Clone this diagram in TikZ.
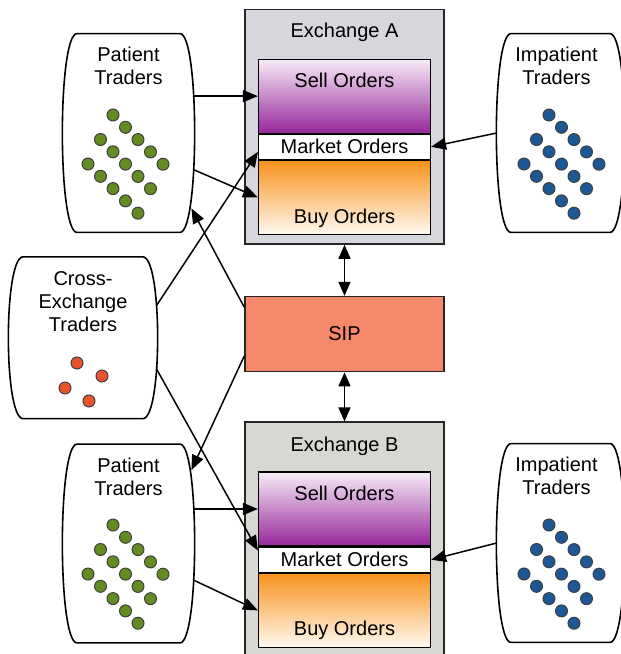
\documentclass[tikz,border=0pt]{standalone}
\usepackage{fontspec}
\setmainfont{Liberation Sans}
\usetikzlibrary{arrows.meta, positioning, calc}
\definecolor{exgrayA}{RGB}{214,214,221}
\definecolor{exgrayB}{RGB}{217,215,211}
\definecolor{selltop}{RGB}{247,236,247}
\definecolor{sellpurple}{RGB}{150,38,155}
\definecolor{buyorange}{RGB}{248,146,28}
\definecolor{buybottom}{RGB}{255,249,240}
\definecolor{sipfill}{RGB}{245,136,106}
\definecolor{dotgreen}{RGB}{98,140,32}
\definecolor{dotblue}{RGB}{28,88,150}
\definecolor{dotred}{RGB}{234,84,44}
\tikzset{
  exchange/.style={rectangle, minimum width=99.5pt, minimum height=117.25pt, draw=black!85, line width=0.8pt},
  sellbox/.style={rectangle, minimum width=86pt, minimum height=37pt, inner sep=0pt, draw=black, line width=0.6pt, top color=selltop, bottom color=sellpurple, text height=7.2pt, text depth=16.2pt},
  marketbox/.style={rectangle, minimum width=86pt, minimum height=12.5pt, inner sep=0pt, draw=black, line width=0.6pt, fill=white},
  buybox/.style={rectangle, minimum width=86pt, minimum height=37pt, inner sep=0pt, draw=black, line width=0.6pt, top color=buyorange, bottom color=buybottom, text height=25.5pt, text depth=0pt},
  sipbox/.style={rectangle, minimum width=99.5pt, minimum height=37.5pt, draw=black!85, line width=0.8pt, fill=sipfill},
  traders/.style={rectangle, minimum width=65.5pt, minimum height=99pt, inner sep=0pt},
  title/.style={align=center, inner sep=0pt},
  dot/.style={draw=black!75, line width=0.5pt},
  arrow/.style={line width=0.75pt, -{Triangle[length=7.5pt, width=6pt]}},
  twoway/.style={line width=0.75pt, {Triangle[length=7pt, width=6pt]}-{Triangle[length=7pt, width=6pt]}}
}
% barrel outline round a traders node
\newcommand{\barrel}[1]{%
  \draw[line width=0.8pt, fill=white]
    ($(#1.north west)+(14,0)$) -- ($(#1.north east)+(-14,0)$)
    .. controls ($(#1.north east)+(5,3)$) and ($(#1.south east)+(5,-3)$) .. ($(#1.south east)+(-14,0)$)
    -- ($(#1.south west)+(14,0)$)
    .. controls ($(#1.south west)+(-5,-3)$) and ($(#1.north west)+(-5,3)$) .. cycle;}

\begin{document}
\begin{tikzpicture}[x=0.5pt, y=-0.5pt, node distance=0pt, font=\fontsize{10}{11.5}\selectfont]
  \useasboundingbox (0,0) rectangle (621,654);

  % exchanges and SIP
  \node (exA) [exchange, fill=exgrayA] at (344.5,126.75) {};
  \node (exAT) [title, below=7.2pt of exA.north] {Exchange A};
  \node (sellA) [sellbox, below=24.9pt of exA.north] {Sell Orders};
  \node (mktA) [marketbox, below=of sellA] {Market Orders};
  \node (buyA) [buybox, below=of mktA] {Buy Orders};

  \node (sip) [sipbox, below=25.5pt of exA] {SIP};

  \node (exB) [exchange, fill=exgrayB, minimum height=122.5pt, below=24.5pt of sip] {};
  \node (exBT) [title, below=7.4pt of exB.north] {Exchange B};
  \node (sellB) [sellbox, below=25pt of exB.north] {Sell Orders};
  \node (mktB) [marketbox, below=of sellB] {Market Orders};
  \node (buyB) [buybox, below=of mktB] {Buy Orders};

  % traders
  \node (pa) [traders] at (128.5,133) {};
  \node (ia) [traders, minimum width=63.5pt] at (560.5,133) {};
  \node (ce) [traders, minimum width=74pt, minimum height=80.5pt] at (83,337.75) {};
  \node (pb) [traders] at (128.5,543.5) {};
  \node (ib) [traders, minimum width=63.5pt] at (560.5,543) {};
  \barrel{pa} \barrel{ia} \barrel{ce} \barrel{pb} \barrel{ib}

  \node (paT) [title, below=6.6pt of pa.north] {Patient\\Traders};
  \node (iaT) [title, below=6.6pt of ia.north, xshift=-2pt] {Impatient\\Traders};
  \node (ceT) [title, below=7.2pt of ce.north] {Cross-\\Exchange\\Traders};
  \node (pbT) [title, below=6.6pt of pb.north] {Patient\\Traders};
  \node (ibT) [title, below=6.6pt of ib.north, xshift=-2pt] {Impatient\\Traders};

  \foreach \ox/\oy/\col in {113/115/dotgreen, 113/525/dotgreen, 549/115/dotblue, 549/525/dotblue}
    \foreach \i in {0,...,4}
      \foreach \j in {0,1,2}
        \draw[dot, fill=\col] (\ox+12.5*\i-12.5*\j, \oy+12.3*\i+24.5*\j) circle (3pt);
  \foreach \dx/\dy in {77/363, 102/376, 65/388, 89/401}
    \draw[dot, fill=dotred] (\dx,\dy) circle (3pt);

  % orders
  \draw [arrow] (pa.east |- sellA.west) -- (sellA.west);
  \draw [arrow] ($(pa.east)+(0,37)$) -- (buyA.west);
  \draw [arrow] (ia.west) -- (mktA.east);
  \draw [arrow] ($(ce.east)+(-1,-32)$) -- ($(mktA.south west)+(0,-8)$);
  \draw [arrow] ($(ce.east)+(-1,31)$) -- ($(mktB.north west)+(0,4)$);
  \draw [arrow] (pb.east |- sellB.west) -- (sellB.west);
  \draw [arrow] ($(pb.east)+(0,37)$) -- (buyB.west);
  \draw [arrow] (ib.west) -- (mktB.east);

  % quotes from the SIP
  \draw [arrow] ($(sip.west)+(0,-27)$) -- ($(pa.south east)+(-3,-24)$);
  \draw [arrow] ($(sip.west)+(0,22)$) -- ($(pb.north east)+(-3,26)$);
  \draw [twoway] (exA.south) -- (sip.north);
  \draw [twoway] (sip.south) -- (exB.north);

\end{tikzpicture}
\end{document}
